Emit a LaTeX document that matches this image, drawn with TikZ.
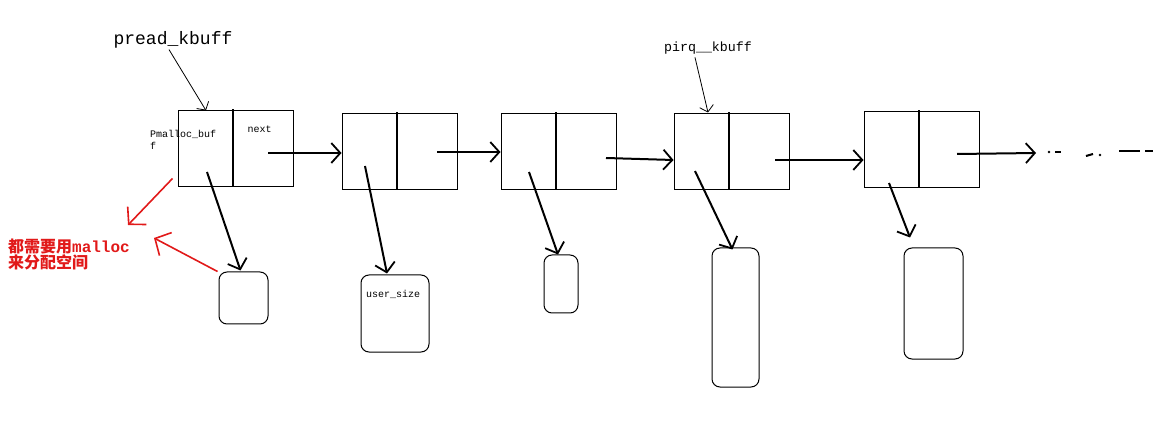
\documentclass[tikz,border=0pt]{standalone}
\usepackage{fontspec}
\setmonofont{Liberation Mono}
\newfontfamily\cjk{Noto Sans CJK SC}
\usetikzlibrary{arrows.meta,calc}
\definecolor{pen}{RGB}{225,25,25}
\begin{document}
\begin{tikzpicture}[x=1pt,y=-1pt,
  listnode/.style={draw,line width=1pt,minimum width=115pt,minimum height=76pt,inner sep=0pt},
  membox/.style={draw,line width=1pt,rounded corners=8pt,inner sep=0pt},
  divider/.style={line width=2pt},
  ptr/.style={line width=2pt,-{Straight Barb[length=9pt,width=20pt,line width=1.8pt]}},
  thinptr/.style={line width=0.8pt,-{Straight Barb[length=6pt,width=14pt,line width=0.8pt]}},
  redptr/.style={pen,line width=1.6pt,-{Straight Barb[length=12pt,width=26pt,line width=1.6pt]}},
  lbl/.style={font=\ttfamily,inner sep=0pt},
  dots/.style={line width=2pt}
]
\useasboundingbox (0,0) rectangle (1154,430);

% list nodes
\node[listnode] (n1) at (235.5,149) {};
\node[listnode] (n2) at (399.5,152) {};
\node[listnode] (n3) at (558.5,152) {};
\node[listnode] (n4) at (731.5,152) {};
\node[listnode] (n5) at (921.5,150) {};
\foreach \n in {n1,n2,n3,n4,n5}{
  \draw[divider] ($(\n.north)+(-2.5,-1)$) -- ($(\n.south)+(-2.5,0)$);
}

% memory boxes
\node[membox,minimum width=49pt,minimum height=52pt] (b1) at (243.5,298) {};
\node[membox,minimum width=68pt,minimum height=77pt] (b2) at (395,313.5) {};
\node[membox,minimum width=34pt,minimum height=58pt] (b3) at (561,284) {};
\node[membox,minimum width=47pt,minimum height=139pt] (b4) at (735.5,317.5) {};
\node[membox,minimum width=59pt,minimum height=111pt] (b5) at (933.5,303.5) {};

% texts
\node[lbl,font=\ttfamily\fontsize{18}{20}\selectfont] (pk) at (173,40) {pread\_kbuff};
\node[lbl,font=\ttfamily\fontsize{13.3}{15}\selectfont] (qk) at (708,48) {pirq\_\_kbuff};
\node[lbl,font=\ttfamily\fontsize{10}{12}\selectfont,anchor=west,align=left] (pm) at (150,140) {Pmalloc\_buf\\f};
\node[lbl,font=\ttfamily\fontsize{10}{12}\selectfont] (nx) at (259.5,129) {next};
\node[lbl,font=\ttfamily\fontsize{10}{12}\selectfont,anchor=west] (us) at (366,294) {user\_size};
\node[inner sep=0pt,anchor=north west,align=left,text=pen,font=\cjk\bfseries\fontsize{16}{16}\selectfont] (note) at (8,239)
  {都需要用{\ttfamily\bfseries malloc}\\来分配空间};

% next pointers
\coordinate (more) at (1036,153);
\draw[ptr] ($(n1.center)+(32.5,4)$) -- ($(n2.west)+(0,1)$);
\draw[ptr] ($(n2.center)+(37.5,0)$) -- (n3.west);
\draw[ptr] ($(n3.center)+(47.5,6)$) -- ($(n4.west)+(0,8)$);
\draw[ptr] ($(n4.center)+(43.5,8)$) -- ($(n5.west)+(0,10)$);
\draw[ptr] ($(n5.center)+(35.5,4)$) -- (more);

% buffer pointers
\draw[ptr] ($(n1.center)+(-28.5,23)$) -- ($(b1.north)+(-3,-1)$);
\draw[ptr] ($(n2.center)+(-34.5,14)$) -- ($(b2.north)+(-8,-1)$);
\draw[ptr] ($(n3.center)+(-29.5,20)$) -- ($(b3.north)+(-3,0)$);
\draw[ptr] ($(n4.center)+(-36.5,19)$) -- ($(b4.north)+(-3,2)$);
\draw[ptr] ($(n5.center)+(-32.5,33)$) -- ($(b5.north)+(-23.5,-10)$);

% label pointers
\draw[thinptr] ($(pk.south)+(-4,1)$) -- ($(n1.north)+(-29.5,0)$);
\draw[thinptr] ($(qk.south)+(-13,3)$) -- ($(n4.north)+(-23.5,-1)$);

% red notes
\draw[redptr] ($(n1.south west)+(-5,-9)$) -- ($(note.north east)+(-2,-14)$);
\draw[redptr] ($(b1.north west)+(-1,0)$) -- ($(note.north east)+(24,-1)$);

% trailing dots
\fill (1049,152) circle (1.3pt);
\draw[dots] (1055,152) -- (1061,152);
\draw[dots] (1086,156) -- (1093,154);
\fill (1100,155) circle (1.3pt);
\draw[dots] (1119,151) -- (1140,151);
\draw[dots] (1145,151) -- (1153,151);
\end{tikzpicture}
\end{document}
